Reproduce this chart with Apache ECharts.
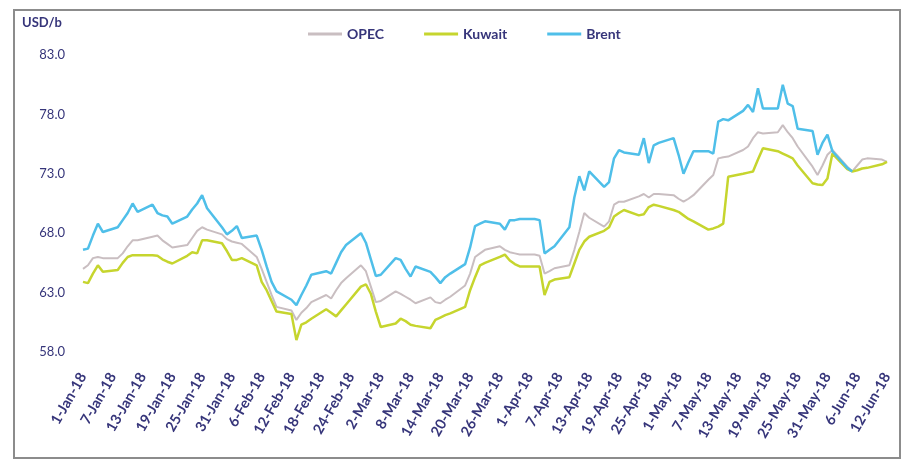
<!DOCTYPE html>
<html>
<head>
    <meta charset="utf-8" />
    <title>OPEC, Kuwait and Brent</title>
    <script type="text/javascript" src="https://cdn.jsdelivr.net/npm/echarts@6/dist/echarts.min.js"></script>
    <style>
        html, body { margin: 0; padding: 0; background: #fff; }
        #container { width: 903px; height: 461px; }
    </style>
</head>
<body>
<div id="container"></div>
<script type="text/javascript">
    // trading-day values (Mon-Fri), one row per week, starting Mon 1-Jan-18
    var opec = [
        65.0, 65.3, 65.9, 66.0, 65.9,
        65.9, 66.3, 66.9, 67.4, 67.4,
        67.7, 67.8, 67.4, 67.1, 66.8,
        67.0, 67.6, 68.2, 68.5, 68.3,
        67.9, 67.5, 67.3, 67.2, 67.1,
        66.0, 65.0, 63.9, 62.8, 61.8,
        61.5, 60.7, 61.3, 61.7, 62.2,
        62.8, 62.5, 63.2, 63.8, 64.2,
        65.3, 64.8, 63.5, 62.2, 62.3,
        63.1, 62.9, 62.65, 62.4, 62.1,
        62.6, 62.2, 62.1, 62.4, 62.65,
        63.6, 64.6, 66.0, 66.3, 66.6,
        66.9, 66.6, 66.4, 66.3, 66.2,
        66.2, 66.1, 64.6, 64.8, 65.05,
        65.3, 66.6, 68.1, 69.7, 69.3,
        68.55, 69.0, 70.4, 70.65, 70.65,
        71.1, 71.3, 71.0, 71.3, 71.3,
        71.2, 70.9, 70.65, 70.9, 71.2,
        72.5, 72.9, 74.3, 74.4, 74.45,
        75.0, 75.3, 76.0, 76.5, 76.4,
        76.5, 77.1, 76.5, 76.0, 75.3,
        73.6, 72.9, 73.7, 74.6, 75.0,
        73.6, 73.2, 73.7, 74.2, 74.3,
        74.2, 74.0
    ];
    var kuwait = [
        63.9, 63.8, 64.6, 65.3, 64.75,
        64.9, 65.5, 66.0, 66.15, 66.15,
        66.15, 66.1, 65.8, 65.6, 65.45,
        66.1, 66.4, 66.3, 67.4, 67.4,
        67.15, 66.5, 65.75, 65.75, 65.9,
        65.3, 63.9, 63.2, 62.3, 61.4,
        61.2, 59.0, 60.3, 60.5, 60.8,
        61.6, 61.3, 61.0, 61.5, 62.0,
        63.5, 63.7, 62.9, 61.4, 60.1,
        60.4, 60.8, 60.6, 60.3, 60.2,
        60.0, 60.7, 60.9, 61.1, 61.25,
        61.8, 63.2, 64.3, 65.3, 65.5,
        66.0, 66.2, 65.7, 65.4, 65.2,
        65.2, 65.2, 62.8, 63.9, 64.1,
        64.3, 65.45, 66.6, 67.3, 67.7,
        68.2, 68.5, 69.4, 69.7, 69.95,
        69.5, 69.6, 70.2, 70.4, 70.3,
        69.95, 69.8, 69.5, 69.2, 69.0,
        68.3, 68.4, 68.55, 68.8, 72.75,
        73.0, 73.1, 73.2, 74.2, 75.15,
        74.9, 74.7, 74.5, 74.3, 73.7,
        72.2, 72.1, 72.05, 72.6, 74.7,
        73.4, 73.2, 73.3, 73.45, 73.5,
        73.8, 74.0
    ];
    var brent = [
        66.6, 66.7, 67.8, 68.8, 68.1,
        68.5, 69.1, 69.7, 70.5, 69.8,
        70.4, 69.7, 69.5, 69.4, 68.8,
        69.4, 70.0, 70.5, 71.2, 70.1,
        68.5, 67.9, 68.2, 68.6, 67.6,
        67.8, 66.6, 65.2, 63.9, 63.1,
        62.4, 61.95, 62.8, 63.6, 64.5,
        64.8, 64.6, 65.5, 66.4, 67.0,
        68.0, 67.2, 65.8, 64.4, 64.5,
        65.9, 65.75, 65.0, 64.35, 65.2,
        64.75, 64.3, 63.8, 64.3, 64.6,
        65.4, 66.8, 68.6, 68.8, 69.0,
        68.8, 68.3, 69.1, 69.1, 69.2,
        69.2, 69.1, 66.3, 66.6, 66.9,
        68.5, 71.0, 72.8, 71.6, 73.2,
        71.9, 72.3, 74.3, 75.0, 74.8,
        74.6, 76.0, 73.9, 75.4, 75.6,
        76.0, 74.6, 73.0, 74.0, 74.9,
        74.9, 74.7, 77.4, 77.6, 77.5,
        78.3, 78.8, 78.2, 80.2, 78.5,
        78.5, 80.5, 78.9, 78.7, 76.8,
        76.6, 74.6, 75.6, 76.3, 74.9,
        73.5, 73.2
    ];
    var monthNames = ['Jan', 'Feb', 'Mar', 'Apr', 'May', 'Jun'];
    var dayCount = 163; // 1-Jan-18 .. 12-Jun-18

    var categories = [];
    for (var i = 0; i < dayCount; i++) {
        var d = new Date(2018, 0, 1 + i);
        categories.push(d.getDate() + '-' + monthNames[d.getMonth()] + '-18');
    }

    // put weekday values on the calendar axis, weekends left empty
    function onCalendar(vals) {
        var out = [], k = 0;
        for (var i = 0; i < dayCount; i++) {
            if (i % 7 < 5 && k < vals.length) {
                out.push(vals[k++]);
            } else {
                out.push(null);
            }
        }
        return out;
    }

    var labelColor = '#36357a';
    var myChart = echarts.init(document.getElementById('container'));
    var option = {
        backgroundColor: '#fff',
        animation: false,
        graphic: [
            {
                type: 'rect',
                shape: { x: 14, y: 10, width: 886, height: 448 },
                style: { fill: 'none', stroke: '#8c8c8c', lineWidth: 2 }
            },
            {
                type: 'text',
                left: 22, top: 16,
                style: { text: 'USD/b', fill: labelColor, font: 'bold 13px Lato' }
            }
        ],
        legend: {
            left: 303,
            top: 22,
            itemWidth: 34,
            itemHeight: 3,
            itemGap: 40,
            icon: 'rect',
            textStyle: { color: labelColor, fontFamily: 'Lato', fontWeight: 'bold', fontSize: 14 },
            data: ['OPEC', 'Kuwait', 'Brent']
        },
        grid: { left: 83, right: 16, top: 55, bottom: 109 },
        xAxis: {
            type: 'category',
            data: categories,
            boundaryGap: false,
            axisLine: { show: false },
            axisTick: { show: false },
            axisLabel: {
                interval: 5,
                rotate: 60,
                margin: 22,
                color: labelColor,
                fontFamily: 'Lato',
                fontWeight: 'bold',
                fontSize: 14.5
            }
        },
        yAxis: {
            type: 'value',
            min: 58,
            max: 83,
            interval: 5,
            splitLine: { show: false },
            axisLine: { show: false },
            axisTick: { show: false },
            axisLabel: {
                margin: 18,
                color: labelColor,
                fontFamily: 'Lato',
                fontSize: 13,
                formatter: function (v) { return v.toFixed(1); }
            }
        },
        series: [
            {
                name: 'OPEC', type: 'line', data: onCalendar(opec), connectNulls: true,
                symbol: 'none', color: '#c9bec1', lineStyle: { width: 2 }
            },
            {
                name: 'Kuwait', type: 'line', data: onCalendar(kuwait), connectNulls: true,
                symbol: 'none', color: '#c6d52e', lineStyle: { width: 2.5 }
            },
            {
                name: 'Brent', type: 'line', data: onCalendar(brent), connectNulls: true,
                symbol: 'none', color: '#4fbfe9', lineStyle: { width: 2.5 }
            }
        ]
    };
    myChart.setOption(option);
</script>
</body>
</html>
